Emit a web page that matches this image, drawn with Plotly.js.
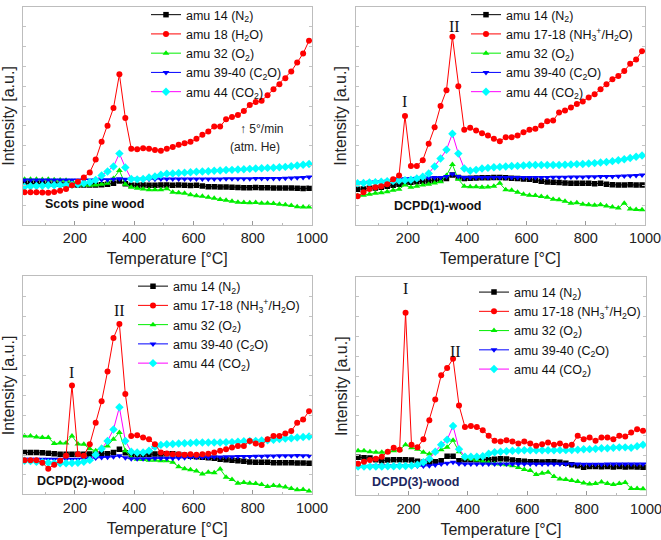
<!DOCTYPE html>
<html>
<head>
<meta charset="utf-8">
<script src="https://cdn.plot.ly/plotly-3.0.1.min.js"></script>
<style>html,body{margin:0;padding:0;background:#fff;}#chart{width:661px;height:540px;}</style>
</head>
<body>
<div id="chart"></div>
<script>
// Temperature grid [°C]
const temperature = [30,50,70,90,110,130,150,170,190,210,230,250,270,290,310,330,350,370,390,410,430,450,470,490,510,530,550,570,590,610,630,650,670,690,710,730,750,770,790,810,830,850,870,890,910,930,950,970,990];

// Series names
const namesPine = ["amu 14 (N<sub>2</sub>)","amu 18 (H<sub>2</sub>O)","amu 32 (O<sub>2</sub>)","amu 39-40 (C<sub>2</sub>O)","amu 44 (CO<sub>2</sub>)"];
const namesDCPD = ["amu 14 (N<sub>2</sub>)","amu 17-18 (NH<sub>3</sub><sup>+</sup>/H<sub>2</sub>O)","amu 32 (O<sub>2</sub>)","amu 39-40 (C<sub>2</sub>O)","amu 44 (CO<sub>2</sub>)"];
const panelLabels = ["Scots pine wood","DCPD(1)-wood","DCPD(2)-wood","DCPD(3)-wood"];
const xTickVals = [200,400,600,800,1000];

// Panel 1: Scots pine wood
const p1_n2  = [2.1,2.1,2.09,2.08,2.07,2.06,2.05,2.04,2.03,2.02,2.02,2.02,2.02,2.03,2.05,2.1,2.22,2.08,2.0,2.0,2.01,2.0,2.0,2.02,2.01,2.0,2.01,2.0,1.99,2.0,1.97,1.93,1.93,1.92,1.92,1.9,1.89,1.88,1.88,1.89,1.88,1.88,1.87,1.87,1.86,1.87,1.85,1.84,1.85];
const p1_h2o = [1.65,1.65,1.65,1.64,1.63,1.66,1.72,1.82,2.0,2.18,2.4,2.65,3.3,4.2,5.0,5.9,7.6,5.4,3.85,3.82,3.87,3.84,3.78,3.75,3.84,3.93,4.05,4.12,4.2,4.35,4.55,4.72,4.97,4.97,5.33,5.45,5.55,5.75,6.05,6.2,6.27,6.55,6.85,7.1,7.4,7.75,8.2,8.65,9.3];
const p1_o2  = [2.3,2.3,2.3,2.29,2.3,2.28,2.27,2.25,2.2,2.1,2.02,2.0,2.02,2.05,2.1,2.35,2.75,2.05,1.9,1.85,1.82,1.78,1.77,1.77,1.83,1.65,1.62,1.6,1.52,1.47,1.45,1.4,1.35,1.28,1.25,1.2,1.15,1.13,1.12,1.13,1.1,1.1,1.08,1.04,1.02,0.98,0.92,0.9,0.9];
const p1_c2o = [2.27,2.27,2.27,2.27,2.27,2.27,2.27,2.27,2.27,2.27,2.27,2.27,2.27,2.28,2.28,2.3,2.33,2.3,2.3,2.31,2.31,2.31,2.31,2.32,2.32,2.32,2.32,2.32,2.32,2.32,2.32,2.32,2.32,2.32,2.33,2.33,2.33,2.33,2.33,2.34,2.34,2.35,2.35,2.35,2.36,2.37,2.38,2.4,2.42];
const p1_co2 = [1.93,1.95,1.97,1.98,2.0,2.0,2.01,2.02,2.03,2.06,2.1,2.15,2.27,2.5,2.7,2.95,3.6,2.9,2.32,2.3,2.32,2.4,2.45,2.53,2.58,2.6,2.62,2.64,2.66,2.68,2.7,2.71,2.73,2.75,2.77,2.78,2.8,2.81,2.83,2.85,2.86,2.88,2.89,2.91,2.93,2.96,3.0,3.04,3.08];

// Panel 2: DCPD(1)-wood
const p2_n2  = [1.8,1.82,1.85,1.87,1.9,1.95,2.0,2.05,2.12,2.15,2.18,2.2,2.22,2.25,2.27,2.35,2.52,2.4,2.35,2.36,2.37,2.38,2.38,2.4,2.4,2.38,2.36,2.35,2.32,2.3,2.25,2.2,2.17,2.15,2.14,2.12,2.1,2.1,2.1,2.1,2.08,2.1,2.05,2.03,2.02,2.02,2.03,2.02,2.02];
const p2_h2o = [1.45,1.65,1.82,1.9,1.95,2.05,2.3,2.5,5.5,2.98,2.98,3.27,4.1,4.93,6.0,6.8,9.5,7.0,4.8,4.9,4.77,4.63,4.52,4.35,4.23,4.43,4.43,4.52,4.68,4.8,4.85,5.02,5.23,5.27,5.68,5.77,5.93,6.1,6.23,6.43,6.6,6.85,7.1,7.35,7.52,7.77,8.13,8.35,8.77];
const p2_o2  = [1.47,1.5,1.55,1.6,1.63,1.68,1.75,1.8,2.02,1.9,1.95,2.02,2.05,2.12,2.18,2.5,3.05,2.3,1.95,1.93,1.93,1.9,1.92,1.95,2.1,1.77,1.75,1.65,1.55,1.5,1.48,1.43,1.4,1.3,1.27,1.2,1.1,1.12,1.05,1.02,1.0,1.02,0.95,0.9,0.85,1.1,0.8,0.78,0.77];
const p2_c2o = [2.1,2.12,2.15,2.17,2.18,2.2,2.25,2.3,2.33,2.35,2.36,2.37,2.38,2.39,2.4,2.45,2.57,2.45,2.4,2.4,2.4,2.4,2.4,2.4,2.4,2.4,2.4,2.4,2.4,2.4,2.4,2.4,2.4,2.41,2.41,2.41,2.42,2.42,2.42,2.43,2.43,2.44,2.44,2.45,2.46,2.47,2.48,2.5,2.52];
const p2_co2 = [2.1,2.12,2.14,2.16,2.18,2.2,2.22,2.24,2.26,2.28,2.35,2.43,2.6,2.95,3.35,3.8,4.6,3.6,2.85,2.73,2.78,2.85,2.88,2.91,2.93,2.95,2.97,2.98,3.0,3.02,3.02,3.02,3.02,3.02,3.03,3.04,3.05,3.07,3.08,3.1,3.12,3.15,3.18,3.22,3.27,3.32,3.38,3.44,3.5];

// Panel 3: DCPD(2)-wood
const p3_n2  = [2.12,2.12,2.12,2.1,2.08,2.05,2.03,2.03,2.03,2.03,2.03,2.04,2.05,2.05,2.05,2.12,2.28,2.1,2.03,2.03,2.03,2.03,2.04,2.04,2.05,2.05,2.02,1.98,1.93,1.9,1.87,1.85,1.82,1.78,1.75,1.73,1.7,1.67,1.63,1.62,1.62,1.62,1.6,1.6,1.6,1.6,1.58,1.58,1.57];
const p3_h2o = [1.73,1.73,1.72,1.6,1.3,1.5,1.7,1.95,5.5,2.03,1.95,2.53,3.62,4.7,6.2,7.9,8.6,5.07,2.95,2.98,2.87,2.78,2.53,2.12,2.07,2.03,2.03,2.0,2.03,2.0,2.03,2.05,2.12,2.2,2.28,2.37,2.45,2.45,2.7,2.57,2.5,2.78,2.95,2.95,3.07,3.2,3.62,3.78,4.2];
const p3_o2  = [2.95,2.95,2.9,2.87,2.87,2.57,2.6,2.6,2.95,2.55,2.53,2.3,2.2,2.37,2.45,2.78,3.12,2.2,1.85,1.78,1.76,1.73,1.72,1.7,1.7,1.62,1.4,1.3,1.25,1.18,1.03,1.12,1.1,1.28,0.87,0.75,0.57,0.6,0.57,0.55,0.5,0.4,0.45,0.42,0.37,0.3,0.23,0.25,0.17];
const p3_c2o = [1.78,1.78,1.78,1.78,1.78,1.78,1.78,1.78,1.78,1.78,1.8,1.82,1.84,1.86,1.87,1.9,1.95,1.85,1.8,1.8,1.8,1.8,1.82,1.82,1.83,1.83,1.84,1.85,1.87,1.88,1.88,1.88,1.89,1.89,1.9,1.9,1.91,1.92,1.92,1.93,1.93,1.94,1.94,1.95,1.95,1.95,1.96,1.95,1.95];
const p3_co2 = [1.7,1.68,1.65,1.62,1.6,1.58,1.57,1.57,1.58,1.6,1.65,1.73,2.0,2.3,2.7,3.28,4.4,2.7,2.15,2.12,2.12,2.2,2.4,2.5,2.53,2.55,2.57,2.58,2.6,2.62,2.62,2.62,2.62,2.62,2.63,2.64,2.66,2.68,2.7,2.7,2.72,2.73,2.76,2.8,2.82,2.84,2.87,2.9,2.92];

// Panel 4: DCPD(3)-wood
const p4_n2  = [1.92,1.9,1.88,1.8,1.75,1.78,1.8,1.8,1.8,1.78,1.72,1.67,1.67,1.7,1.75,1.97,1.97,1.75,1.8,1.8,1.8,1.8,1.8,1.82,1.85,1.83,1.78,1.75,1.72,1.7,1.7,1.68,1.7,1.7,1.67,1.62,1.55,1.5,1.42,1.45,1.45,1.44,1.45,1.43,1.45,1.43,1.44,1.43,1.42];
const p4_h2o = [1.6,1.7,1.78,1.85,1.95,2.2,2.4,2.3,9.2,2.55,2.42,2.83,3.78,4.83,6.05,6.42,6.88,4.53,3.45,3.5,3.45,3.28,3.0,2.75,2.72,2.78,2.72,2.62,2.72,2.62,2.5,2.58,2.67,2.55,2.62,2.5,2.55,3.0,2.83,2.92,2.75,2.92,2.92,2.83,3.0,2.97,3.17,3.33,3.25];
const p4_o2  = [2.25,2.25,2.2,2.17,2.17,2.2,2.25,2.3,2.55,2.4,2.33,2.17,2.08,2.2,2.3,2.42,2.78,2.2,1.9,1.83,1.78,1.7,1.65,1.6,1.58,1.55,1.5,1.4,1.3,1.25,1.05,1.12,1.17,0.95,0.83,0.8,0.75,0.7,0.62,0.58,0.6,0.67,0.6,0.55,0.6,0.65,0.35,0.35,0.33];
const p4_c2o = [1.45,1.45,1.47,1.48,1.48,1.48,1.48,1.48,1.48,1.48,1.48,1.48,1.5,1.53,1.58,1.62,1.67,1.6,1.58,1.58,1.58,1.58,1.58,1.58,1.58,1.58,1.58,1.58,1.58,1.58,1.58,1.58,1.58,1.58,1.58,1.58,1.58,1.58,1.57,1.57,1.57,1.57,1.58,1.58,1.58,1.58,1.58,1.58,1.58];
const p4_co2 = [1.45,1.45,1.45,1.46,1.46,1.47,1.47,1.48,1.48,1.5,1.55,1.67,1.85,2.2,2.55,2.8,3.5,2.33,1.95,1.95,1.95,1.97,2.1,2.17,2.2,2.22,2.25,2.26,2.27,2.27,2.27,2.27,2.27,2.27,2.28,2.28,2.29,2.3,2.32,2.33,2.35,2.37,2.38,2.4,2.42,2.42,2.4,2.48,2.55];

const styles = [
  {line:'#000000', marker:'#000000', symbol:'square', size:5.5},
  {line:'#ff0000', marker:'#ff0000', symbol:'circle', size:6},
  {line:'#00ee00', marker:'#00ee00', symbol:'triangle-up', size:6},
  {line:'#0000ff', marker:'#0000ff', symbol:'triangle-down', size:6},
  {line:'#ff00ff', marker:'#00ffff', symbol:'diamond', size:6.5}
];

const panels = [
  {series:[p1_n2,p1_h2o,p1_o2,p1_c2o,p1_co2], names:namesPine},
  {series:[p2_n2,p2_h2o,p2_o2,p2_c2o,p2_co2], names:namesDCPD},
  {series:[p3_n2,p3_h2o,p3_o2,p3_c2o,p3_co2], names:namesDCPD},
  {series:[p4_n2,p4_h2o,p4_o2,p4_c2o,p4_co2], names:namesDCPD}
];

const traces = [];
panels.forEach((p, pi) => {
  const sfx = pi === 0 ? '' : String(pi + 1);
  const legendId = pi === 0 ? 'legend' : 'legend' + (pi + 1);
  [0,1,2,3,4].forEach(si => {
    const st = styles[si];
    traces.push({
      type:'scatter', mode:'lines+markers',
      x: temperature, y: p.series[si], name: p.names[si],
      xaxis:'x' + sfx, yaxis:'y' + sfx, legend: legendId,
      line:{color:st.line, width:1},
      marker:{color:st.marker, symbol:st.symbol, size:st.size, line:{width:0}},
      legendrank: si + 1
    });
  });
});
// draw red on top; legend order kept by legendrank
const drawOrder = [0,2,3,4,1];
const ordered = [];
for (let pi = 0; pi < 4; pi++) drawOrder.forEach(si => ordered.push(traces[pi*5 + si]));

const W = 661, H = 540;
const dom = [
  {x:[22.5/W, 312/W], y:[1-222/H, 1-2/H]},
  {x:[355.5/W, 645/W], y:[1-222/H, 1-2/H]},
  {x:[22.5/W, 312/W], y:[1-494/H, 1-274/H]},
  {x:[356/W, 646/W], y:[1-495/H, 1-274.5/H]}
];

const font = 'Liberation Sans, Arial, sans-serif';
const layout = {
  width:W, height:H, margin:{l:0,r:0,t:0,b:0},
  paper_bgcolor:'#fff', plot_bgcolor:'#fff', showlegend:true,
  font:{family:font, color:'#000'}
};
const legPos = [
  {x:146/W, y:1+5/H},
  {x:466/W, y:1+5/H},
  {x:133/W, y:1-269/H},
  {x:474/W, y:1-275/H}
];
dom.forEach((d, i) => {
  const sfx = i === 0 ? '' : String(i + 1);
  layout['xaxis' + sfx] = {
    domain:d.x, anchor:'y' + sfx, range:[23, 1000],
    tickvals:xTickVals, ticks:'inside', ticklen:4, tickcolor:'#999',
    ticklabeloverflow:'allow',
    minor:{dtick:100, ticks:'inside', ticklen:2, tickcolor:'#bbb'},
    showline:true, linecolor:'#bdbdbd', linewidth:1, mirror:true,
    showgrid:false, zeroline:false,
    tickfont:{size:14.5, family:font, color:'#222'},
    title:{text:'Temperature [°C]', font:{size:16, family:font, color:'#222'}, standoff:7}
  };
  layout['yaxis' + sfx] = {
    domain:d.y, anchor:'x' + sfx, range:[0, 11], dtick:1,
    ticks:'inside', ticklen:3, tickcolor:'#c4c4c4', showticklabels:false,
    showline:true, linecolor:'#bdbdbd', linewidth:1, mirror:'ticks',
    showgrid:false, zeroline:false,
    title:{text:'Intensity [a.u.]', font:{size:16, family:font, color:'#222'}, standoff:3}
  };
  const lid = i === 0 ? 'legend' : 'legend' + (i + 1);
  layout[lid] = {
    x:legPos[i].x, y:legPos[i].y, xanchor:'left', yanchor:'top',
    bgcolor:'rgba(0,0,0,0)', borderwidth:0, tracegroupgap:0, itemwidth:30,
    font:{size:12.5, family:font, color:'#111'}, traceorder:'normal'
  };
});

const serif = 'Liberation Serif, Times New Roman, serif';
layout.annotations = [
  {xref:'x', yref:'y', x:92, y:1.05, xanchor:'left', text:'<b>' + panelLabels[0] + '</b>', showarrow:false, font:{size:12.5, family:font, color:'#111'}},
  {xref:'x', yref:'y', x:828, y:4.85, text:'↑ 5°/min', showarrow:false, font:{size:12, family:font, color:'#222'}},
  {xref:'x', yref:'y', x:808, y:3.95, text:'(atm. He)', showarrow:false, font:{size:12, family:font, color:'#222'}},
  {xref:'x2', yref:'y2', x:300, y:0.95, text:'<b>' + panelLabels[1] + '</b>', showarrow:false, font:{size:12.5, family:font, color:'#111'}},
  {xref:'x2', yref:'y2', x:190, y:6.25, text:'I', showarrow:false, font:{size:16, family:serif, color:'#111'}},
  {xref:'x2', yref:'y2', x:358, y:10.0, text:'II', showarrow:false, font:{size:16, family:serif, color:'#111'}},
  {xref:'x3', yref:'y3', x:220, y:0.7, text:'<b>' + panelLabels[2] + '</b>', showarrow:false, font:{size:12.5, family:font, color:'#111'}},
  {xref:'x3', yref:'y3', x:190, y:6.15, text:'I', showarrow:false, font:{size:16, family:serif, color:'#111'}},
  {xref:'x3', yref:'y3', x:352, y:9.3, text:'II', showarrow:false, font:{size:16, family:serif, color:'#111'}},
  {xref:'x4', yref:'y4', x:224, y:0.7, text:'<b>' + panelLabels[3] + '</b>', showarrow:false, font:{size:12.5, family:font, color:'#1c2660'}},
  {xref:'x4', yref:'y4', x:190, y:10.4, text:'I', showarrow:false, font:{size:16, family:serif, color:'#111'}},
  {xref:'x4', yref:'y4', x:358, y:7.25, text:'II', showarrow:false, font:{size:16, family:serif, color:'#111'}}
];

Plotly.newPlot('chart', ordered, layout, {displayModeBar:false, staticPlot:true});
</script>
</body>
</html>
